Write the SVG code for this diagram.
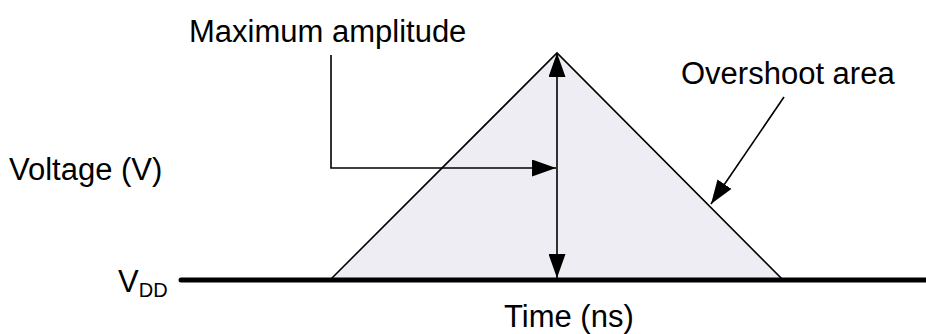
<svg xmlns="http://www.w3.org/2000/svg" width="926" height="334" viewBox="0 0 926 334">
  <defs>
    <marker id="ah" markerUnits="userSpaceOnUse" markerWidth="24" markerHeight="17" viewBox="0 0 24 17" refX="24" refY="8.5" orient="auto-start-reverse">
      <path d="M0,0 L24,8.5 L0,17 z" fill="#000"/>
    </marker>
    <style>
      .lbl { font-family: "Liberation Sans", Arial, sans-serif; font-size: 31px; fill: #000; }
      .sub { font-size: 20px; }
      .conn { fill: none; stroke: #000; stroke-width: 1.6; }
    </style>
  </defs>
  <rect width="926" height="334" fill="#fff"/>
  <g id="overshoot-area">
    <polygon points="330,280 557,53 783,280" fill="#efedf4" stroke="#000" stroke-width="1.6" stroke-linejoin="miter"/>
  </g>
  <g id="vdd-baseline">
    <line x1="181" y1="280" x2="926" y2="280" stroke="#000" stroke-width="5" stroke-linecap="round"/>
  </g>
  <g id="connectors">
    <line class="conn" x1="557" y1="53" x2="557" y2="278" marker-start="url(#ah)" marker-end="url(#ah)"/>
    <path class="conn" d="M331,55 V168 H556" marker-end="url(#ah)"/>
    <line class="conn" x1="784" y1="97" x2="711" y2="204" marker-end="url(#ah)"/>
  </g>
  <g id="label-max">
    <text class="lbl" x="189" y="42">Maximum amplitude</text>
  </g>
  <g id="label-overshoot">
    <text class="lbl" x="681" y="84">Overshoot area</text>
  </g>
  <g id="label-voltage">
    <text class="lbl" x="9" y="180">Voltage (V)</text>
  </g>
  <g id="label-time">
    <text class="lbl" x="504" y="327">Time (ns)</text>
  </g>
  <g id="label-vdd">
    <text class="lbl" x="118" y="292">V<tspan class="sub" dy="5">DD</tspan></text>
  </g>
</svg>
